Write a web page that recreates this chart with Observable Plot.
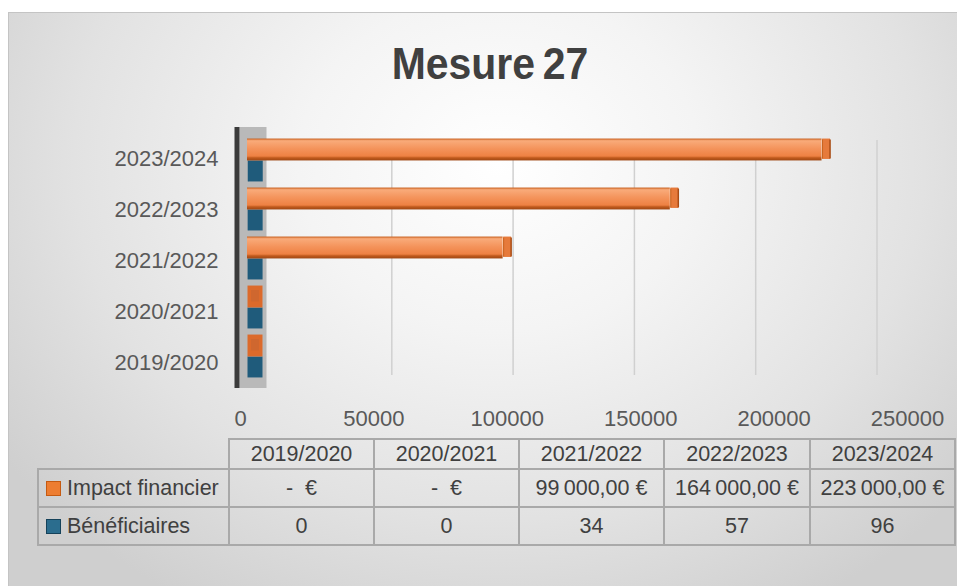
<!DOCTYPE html>
<html><head><meta charset="utf-8">
<script src="https://cdn.jsdelivr.net/npm/d3@7"></script>
<script src="https://cdn.jsdelivr.net/npm/@observablehq/plot@0.6"></script>
<style>
html,body{margin:0;padding:0;background:#fff;}
#wrap{position:relative;width:957px;height:586px;overflow:hidden;background:#fff;font-family:"Liberation Sans",Arial,sans-serif;}
#bg{position:absolute;left:8px;top:12px;width:980px;height:600px;
  background:radial-gradient(ellipse 62% 85% at 50% 25%, #ffffff 0%, #f4f4f4 33%, #e2e2e2 70%, #cfcfcf 100%);
  border-top:1px solid #c4c4c4;border-left:1px solid #c4c4c4;}
.layer{position:absolute;left:0;top:0;}
#title{position:absolute;left:0;width:980px;top:41px;line-height:46px;text-align:center;
  font-family:"Liberation Sans",Arial,sans-serif;font-weight:bold;font-size:45px;color:#404040;word-spacing:-4px;
  transform:scaleX(0.91);transform-origin:490px 0;}
.cell{position:absolute;box-sizing:border-box;border:2px solid #a9a9a9;display:flex;align-items:center;justify-content:center;
  font-size:21.5px;color:#404040;white-space:nowrap;}
.cell.lab{justify-content:flex-start;padding-left:7px;}
.sw{display:inline-block;width:15px;height:15px;box-sizing:border-box;margin-right:6px;}
</style></head>
<body>
<div id="wrap">
  <div id="bg"></div>
  <div id="title"></div>
  <div id="grid" class="layer"></div>
  <div id="bars" class="layer"></div>
  <div id="front" class="layer"></div>
  <div id="table" class="layer"></div>
</div>
<svg width="0" height="0" style="position:absolute">
  <defs>
    <linearGradient id="gOrange" x1="0" y1="0" x2="0" y2="1">
      <stop offset="0" stop-color="#c75e1c"/>
      <stop offset="0.1" stop-color="#f9ab7a"/>
      <stop offset="0.45" stop-color="#f4945c"/>
      <stop offset="0.8" stop-color="#ee8143"/>
      <stop offset="0.88" stop-color="#c05a1d"/>
      <stop offset="1" stop-color="#9f4714"/>
    </linearGradient>
  </defs>
</svg>
<script>
const title = "Mesure 27";
const categories = ["2019/2020","2020/2021","2021/2022","2022/2023","2023/2024"];
const seriesNames = ["Impact financier","Bénéficiaires"];
const impactFinancier = [0, 0, 99000, 164000, 223000];
const beneficiaires = [0, 0, 34, 57, 96];
const xTicks = [0, 50000, 100000, 150000, 200000, 250000];

const W = 957, H = 586;
const orange = "#ed7d31", orangeDark = "#c55a11", blue = "#1f5b7b", blueDark = "#15425a";
const catsTopDown = categories.slice().reverse();

document.getElementById("title").textContent = title;

const rows = categories.map((c, i) => ({cat: c, impact: impactFinancier[i], benef: beneficiaires[i]}));

// back wall gridlines
const grid = Plot.plot({
  width: W, height: H, marginTop: 140, marginBottom: H - 375, marginLeft: 0, marginRight: 0,
  style: {background: "transparent", overflow: "visible"},
  x: {domain: [0, 250000], range: [270, 876.5], axis: null},
  marks: [
    Plot.ruleX(xTicks.filter(d => d > 0), {x: d => d, stroke: "#d0d0d0", strokeWidth: 1.5})
  ]
});
document.getElementById("grid").appendChild(grid);

// bars plane
const band = 24.55;
const bars = Plot.plot({
  width: W, height: H, marginTop: 127, marginBottom: H - 388, marginLeft: 0, marginRight: 0,
  style: {background: "transparent", overflow: "visible"},
  x: {domain: [0, 250000], range: [248, 891], axis: null},
  y: {domain: catsTopDown, range: [135.5, 381], padding: 0, axis: null},
  marks: [
    // side wall & axis edge
    Plot.ruleX([0], {x: d => d, dx: 4.5, stroke: "#b9b9b9", strokeWidth: 27}),
    Plot.ruleX([0], {x: d => d, dx: -11.5, stroke: "#3b3b3b", strokeWidth: 5}),
    // Bénéficiaires (blue) stubs + bars
    Plot.tickX(rows, {x: "benef", y: "cat", dx: 6.5, stroke: blue, strokeWidth: 15, insetTop: band, insetBottom: 3.55}),
    Plot.barX(rows, {x: "benef", y: "cat", fill: blue, insetTop: band, insetBottom: 3.55}),
    // Impact financier zero stubs
    Plot.tickX(rows.filter(d => d.impact === 0), {x: "impact", y: "cat", dx: 6.5, stroke: "#dc6a2b", strokeWidth: 15, insetTop: 2.55, insetBottom: band}),
    Plot.tickX(rows.filter(d => d.impact === 0), {x: "impact", y: "cat", dx: 6.5, stroke: "#cf672f", strokeWidth: 8, insetTop: 7, insetBottom: band + 6}),
    // Impact financier bars
    Plot.barX(rows.filter(d => d.impact > 0), {x: "impact", y: "cat", fill: "url(#gOrange)", insetLeft: -1, insetTop: 2.55, insetBottom: band}),
    Plot.tickX(rows.filter(d => d.impact > 0), {x: "impact", y: "cat", dx: 4, stroke: "#e67a3b", strokeWidth: 8, insetTop: 2.55, insetBottom: band + 1.5}),
    Plot.tickX(rows.filter(d => d.impact > 0), {x: "impact", y: "cat", dx: 8, stroke: "#a94c15", strokeWidth: 1.5, insetTop: 3.5, insetBottom: band + 2}),
    Plot.tickX(rows.filter(d => d.impact > 0), {x: "impact", y: "cat", dx: 0.5, stroke: "#c8641f", strokeWidth: 1, insetTop: 3.5, insetBottom: band + 2})
  ]
});
document.getElementById("bars").appendChild(bars);

// front plane: category labels + x tick labels
const front = Plot.plot({
  width: W, height: H, marginTop: 0, marginBottom: H - 418.5, marginLeft: 0, marginRight: 0,
  style: {background: "transparent", overflow: "visible", fontFamily: "Liberation Sans, Arial, sans-serif"},
  x: {domain: [0, 250000], range: [240, 907], axis: null},
  y: {type: "point", domain: catsTopDown, range: [157, 362], padding: 0, axis: null},
  marks: [
    Plot.text(catsTopDown, {x: () => 0, y: d => d, dx: -22, text: d => d, textAnchor: "end", lineAnchor: "middle", fontSize: 22, fill: "#595959"}),
    Plot.text(xTicks, {x: d => d, frameAnchor: "bottom", text: d => String(d), textAnchor: "middle", lineAnchor: "middle", fontSize: 22, fill: "#595959"})
  ]
});
document.getElementById("front").appendChild(front);

// data table
const fr = d3.formatLocale({decimal: ",", thousands: "\u202f", grouping: [3], currency: ["", "\u00a0€"]});
const fmtEuro = v => v === 0 ? "-\u00a0\u00a0€" : fr.format("$,.2f")(v);
const colX = [38, 229, 374, 519, 664, 810, 955];
const rowY = [439, 469, 507, 545];
const tbl = d3.select("#table");
function cell(c, r, html, cls) {
  tbl.append("div").attr("class", "cell" + (cls ? " " + cls : ""))
    .style("left", (colX[c] - 1) + "px").style("top", (rowY[r] - 1) + "px")
    .style("width", (colX[c + 1] - colX[c] + 2) + "px").style("height", (rowY[r + 1] - rowY[r] + 2) + "px")
    .html(html);
}
categories.forEach((c, i) => cell(i + 1, 0, c));
cell(0, 1, `<span class="sw" style="background:${orange};border:1.5px solid ${orangeDark}"></span>${seriesNames[0]}`, "lab");
cell(0, 2, `<span class="sw" style="background:#2b6d8e;border:1.5px solid ${blueDark}"></span>${seriesNames[1]}`, "lab");
impactFinancier.forEach((v, i) => cell(i + 1, 1, fmtEuro(v)));
beneficiaires.forEach((v, i) => cell(i + 1, 2, String(v)));
</script>
</body></html>
